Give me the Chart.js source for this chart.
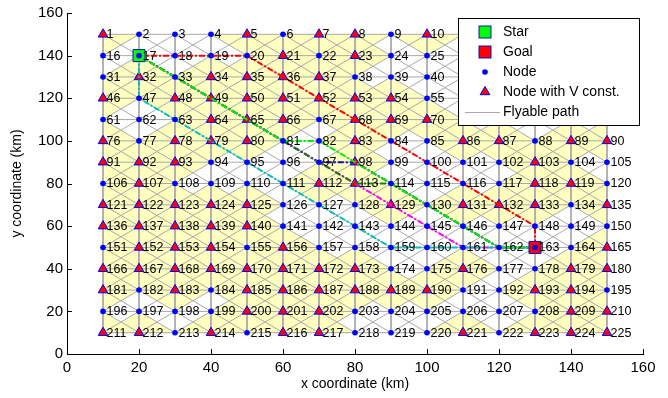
<!DOCTYPE html>
<html>
<head>
<meta charset="utf-8">
<script src="https://cdn.jsdelivr.net/npm/chart.js@4.4.0/dist/chart.umd.min.js"></script>
<style>
  html, body { margin: 0; padding: 0; background: #fff; }
  #wrap { width: 668px; height: 398px; }
</style>
</head>
<body>
<div id="wrap"><canvas id="graph"></canvas></div>
<script>
const axisTicks = [0, 20, 40, 60, 80, 100, 120, 140, 160];
const gridX = [10, 20, 30, 40, 50, 60, 70, 80, 90, 100, 110, 120, 130, 140, 150];
const gridY = [150, 140, 130, 120, 110, 100, 90, 80, 70, 60, 50, 40, 30, 20, 10];

// one string per grid row (nodes 1-15, 16-30, ...): T = node with V const., D = node
const nodeRows = [
  "TDDDTDTTDTDDDDD",
  "DDDDDTDTDDDDDDD",
  "DTDTTTTDDDDDDDD",
  "TDTTTTTTTDDDDDD",
  "DDDTTTDTTTDDDDD",
  "TDTTTDDTDDTTDTT",
  "TTTDDDDTDDDDTDD",
  "DTDDDDTTDDDDTTD",
  "TTTTTDDDTDTTTDT",
  "TTTTTDDDDDDDDDD",
  "DTTTDTDDDDDDDDT",
  "TTTTTTTTDDTDDTT",
  "TDTDTTTTTTDDTTD",
  "DDDDTTTDDDDDDTT",
  "TTDTDTTDDDTDTTT"
];

const startNode = 17;
const goalNode = 163;

const pathRed     = [17, 18, 19, 20, 36, 52, 68, 84, 100, 116, 132, 148, 163];
const pathLime    = [17, 33, 49, 65, 81, 82, 98, 114, 130, 146, 162, 163];
const pathDkGreen = [17, 33, 49, 65, 81, 97, 113, 114, 130, 146, 162, 163];
const pathBlue    = [17, 33, 49, 65, 81, 97, 98, 114, 130, 146, 162, 163];
const pathMagenta = [17, 33, 49, 65, 81, 97, 113, 129, 145, 161, 162, 163];
const pathCyan    = [17, 32, 47, 63, 79, 95, 111, 127, 143, 159, 160, 161, 162, 163];

const N = gridX.length;
function nodeXY(n) {
  const i = n - 1;
  return { x: gridX[i % N], y: gridY[Math.floor(i / N)] };
}
function isV(n) {
  const i = n - 1;
  return nodeRows[Math.floor(i / N)][i % N] === "T";
}
function id(r, c) { return r * N + c + 1; }

const allNodes = [];
for (let n = 1; n <= N * N; n++) allNodes.push(n);

// flyable path: rows, columns and both diagonals, broken by null points
const gap = { x: null, y: null };
const flyData = [];
for (let r = 0; r < N; r++) {
  for (let c = 0; c < N; c++) flyData.push(nodeXY(id(r, c)));
  flyData.push(gap);
}
for (let c = 0; c < N; c++) {
  for (let r = 0; r < N; r++) flyData.push(nodeXY(id(r, c)));
  flyData.push(gap);
}
for (let k = -(N - 2); k <= N - 2; k++) {
  for (let r = 0; r < N; r++) { const c = r + k; if (c >= 0 && c < N) flyData.push(nodeXY(id(r, c))); }
  flyData.push(gap);
  for (let r = 0; r < N; r++) { const c = N - 1 - r + k; if (c >= 0 && c < N) flyData.push(nodeXY(id(r, c))); }
  flyData.push(gap);
}

const pathStyle = (label, data, color, order) => ({
  label, data: data.map(nodeXY), showLine: true, borderColor: color, borderWidth: 2,
  borderDash: [6, 2, 2, 2], pointRadius: 0, fill: false, order
});

const shadePlugin = {
  id: "shade",
  beforeDatasetsDraw(chart) {
    const { ctx, scales: { x, y } } = chart;
    const P = n => { const p = nodeXY(n); return [x.getPixelForValue(p.x), y.getPixelForValue(p.y)]; };
    ctx.save();
    ctx.fillStyle = "#ffffc0";
    ctx.beginPath();
    for (let r = 0; r < N - 1; r++) {
      for (let c = 0; c < N - 1; c++) {
        const a = id(r, c), b = id(r, c + 1), e = id(r + 1, c + 1), d = id(r + 1, c);
        const pa = P(a), pe = P(e);
        const cx = (pa[0] + pe[0]) / 2, cy = (pa[1] + pe[1]) / 2;
        [[a, b], [b, e], [e, d], [d, a]].forEach(([p, q]) => {
          if (isV(p) || isV(q)) {
            const pp = P(p), pq = P(q);
            ctx.moveTo(pp[0], pp[1]); ctx.lineTo(pq[0], pq[1]); ctx.lineTo(cx, cy); ctx.closePath();
          }
        });
      }
    }
    ctx.fill();
    ctx.restore();
  },
  afterDatasetsDraw(chart) {
    const { ctx, scales: { x, y } } = chart;
    ctx.save();
    ctx.fillStyle = "#000";
    ctx.font = "12.5px 'Liberation Sans', Arial, sans-serif";
    ctx.textAlign = "left";
    ctx.textBaseline = "middle";
    allNodes.forEach(n => {
      const p = nodeXY(n);
      ctx.fillText(String(n), x.getPixelForValue(p.x) + 3.5, y.getPixelForValue(p.y) + 0.5);
    });
    ctx.restore();
  },
  afterDraw(chart) {
    const { ctx, chartArea: ca, scales: { x, y } } = chart;
    ctx.save();
    ctx.strokeStyle = "#000";
    ctx.lineWidth = 1;
    ctx.beginPath();
    x.ticks.forEach(t => {
      const px = Math.round(x.getPixelForValue(t.value)) + 0.5;
      ctx.moveTo(px, ca.bottom); ctx.lineTo(px, ca.bottom - 5);
    });
    y.ticks.forEach(t => {
      const py = Math.round(y.getPixelForValue(t.value)) + 0.5;
      ctx.moveTo(ca.left, py); ctx.lineTo(ca.left + 5, py);
    });
    ctx.stroke();

    // legend box
    const lx = 458, ly = 18, lw = 181, lh = 107;
    ctx.fillStyle = "#fff";
    ctx.fillRect(lx, ly, lw, lh);
    ctx.strokeRect(lx + 0.5, ly + 0.5, lw, lh);
    const mx = 485, tx = 503;
    const rows = ["Star", "Goal", "Node", "Node with V const.", "Flyable path"];
    ctx.font = "14px 'Liberation Sans', Arial, sans-serif";
    ctx.textBaseline = "middle";
    rows.forEach((t, i) => {
      const yy = 32 + i * 20;
      ctx.fillStyle = "#000";
      ctx.fillText(t, tx, yy + 0.5);
      ctx.lineWidth = 1;
      ctx.strokeStyle = "#0000ff";
      if (i === 0 || i === 1) {
        ctx.fillStyle = i === 0 ? "#00ff00" : "#ff0000";
        ctx.fillRect(mx - 6, yy - 6, 12, 12);
        ctx.strokeStyle = "#1010c0";
        ctx.strokeRect(mx - 6, yy - 6, 12, 12);
      } else if (i === 2) {
        ctx.fillStyle = "#0000ff";
        ctx.beginPath(); ctx.arc(mx, yy, 2.8, 0, Math.PI * 2); ctx.fill();
      } else if (i === 3) {
        ctx.fillStyle = "#ff0000";
        ctx.beginPath();
        ctx.moveTo(mx, yy - 5.5); ctx.lineTo(mx + 4.8, yy + 2.7); ctx.lineTo(mx - 4.8, yy + 2.7); ctx.closePath();
        ctx.fill(); ctx.stroke();
      } else {
        ctx.strokeStyle = "#a8a8a8";
        ctx.beginPath(); ctx.moveTo(465, yy + 0.5); ctx.lineTo(500, yy + 0.5); ctx.stroke();
      }
    });
    ctx.restore();
  }
};

const graph = document.getElementById("graph").getContext("2d");

let myChart = new Chart(graph, {
  type: "scatter",
  data: {
    datasets: [
      {
        label: "Node", data: allNodes.filter(n => !isV(n)).map(nodeXY),
        pointStyle: "circle", pointRadius: 2.8, pointBackgroundColor: "#0000ff",
        pointBorderColor: "#0000ff", pointBorderWidth: 0, order: 1
      },
      {
        label: "Star", data: [nodeXY(startNode)], pointStyle: "rect", pointRadius: 8.5,
        pointBackgroundColor: "#00ff00", pointBorderColor: "#1010c0", pointBorderWidth: 1, order: 2
      },
      {
        label: "Goal", data: [nodeXY(goalNode)], pointStyle: "rect", pointRadius: 8.5,
        pointBackgroundColor: "#ff0000", pointBorderColor: "#1010c0", pointBorderWidth: 1, order: 2
      },
      pathStyle("p1", pathLime, "#00ee00", 3),
      pathStyle("p2", pathRed, "#ff0000", 4),
      pathStyle("p3", pathCyan, "#00bfbf", 5),
      pathStyle("p4", pathDkGreen, "#1a7a1a", 6),
      pathStyle("p5", pathMagenta, "#ff00ff", 7),
      pathStyle("p6", pathBlue, "#1010b0", 8),
      {
        label: "Node with V const.", data: allNodes.filter(isV).map(nodeXY),
        pointStyle: "triangle", pointRadius: 5.5, pointBackgroundColor: "#ff0000",
        pointBorderColor: "#0000ff", pointBorderWidth: 1, order: 9
      },
      {
        label: "Flyable path", data: flyData, showLine: true, spanGaps: false,
        borderColor: "#a8a8a8", borderWidth: 1, pointRadius: 0, order: 10
      }
    ]
  },
  options: {
    responsive: true,
    maintainAspectRatio: false,
    animation: false,
    layout: { padding: { top: 12, right: 25, left: 0, bottom: 0 } },
    plugins: {
      legend: { display: false },
      tooltip: { enabled: false }
    },
    scales: {
      x: {
        type: "linear", min: 0, max: 160,
        afterBuildTicks: s => { s.ticks = axisTicks.map(v => ({ value: v })); },
        afterFit: s => { s.height = 44; },
        grid: { display: false, drawTicks: false },
        border: { display: true, color: "#000", width: 1 },
        ticks: { padding: 5, color: "#000", font: { family: "'Liberation Sans', Arial", size: 15 }, maxRotation: 0 },
        title: { display: true, text: "x coordinate (km)", color: "#000",
                 font: { family: "'Liberation Sans', Arial", size: 14 }, padding: { top: 0, bottom: 5 } }
      },
      y: {
        type: "linear", min: 0, max: 160,
        afterBuildTicks: s => { s.ticks = axisTicks.map(v => ({ value: v })); },
        afterFit: s => { s.width = 67; },
        grid: { display: false, drawTicks: false },
        border: { display: true, color: "#000", width: 1 },
        ticks: { padding: 4, color: "#000", font: { family: "'Liberation Sans', Arial", size: 15 } },
        title: { display: true, text: "y coordinate (km)", color: "#000",
                 font: { family: "'Liberation Sans', Arial", size: 14 }, padding: { top: 9, bottom: 0 } }
      }
    }
  },
  plugins: [shadePlugin]
});
</script>
</body>
</html>
